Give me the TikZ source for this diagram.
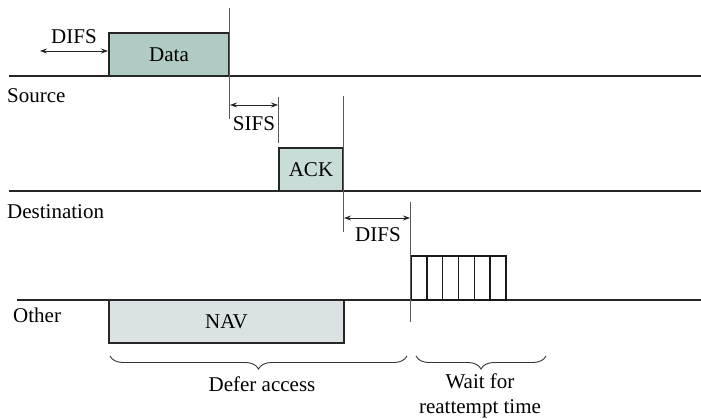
\documentclass[tikz,border=0pt]{standalone}
\usepackage{fontspec}
\setmainfont{Liberation Serif}
\usetikzlibrary{arrows.meta,decorations.pathreplacing}
\definecolor{datac}{HTML}{B0CBC3}
\definecolor{ackc}{HTML}{C8DCD8}
\definecolor{navc}{HTML}{DAE2E4}
\begin{document}
\begin{tikzpicture}[x=1pt,y=-1pt,
  every node/.style={font=\fontsize{21}{24}\selectfont},
  frame/.style={draw=black!85,line width=1.3pt,inner sep=0pt,outer sep=0pt,anchor=south west},
  slotbox/.style={draw=black!90,line width=1.5pt,inner sep=0pt,outer sep=0pt,anchor=south west},
  axis/.style={draw=black!85,line width=1.3pt},
  tick/.style={draw=black!65,line width=0.9pt},
  gap/.style={{Stealth[length=7pt,width=5pt]}-{Stealth[length=7pt,width=5pt]},line width=0.8pt,black!85},
  lbl/.style={inner sep=0pt,anchor=west},
  bracestyle/.style={decorate,decoration={brace,mirror,amplitude=13pt,aspect=0.5},line width=0.9pt,black!80}]
\useasboundingbox (0,0) rectangle (701,418);
% time lines
\coordinate (s0) at (9,76);   \coordinate (s1) at (701,76);
\coordinate (d0) at (9,191);  \coordinate (d1) at (701,191);
\coordinate (o0) at (17,300); \coordinate (o1) at (701,300);
\draw[axis] (s0) -- (s1);
\draw[axis] (d0) -- (d1);
\draw[axis] (o0) -- (o1);
% frames
\node[frame,fill=datac,minimum width=120pt,minimum height=43pt] (data) at (109,76) {};
\node at (data.center) {Data};
\node[frame,fill=ackc,minimum width=64pt,minimum height=43pt] (ack) at (279,191) {};
\node at (ack.center) {ACK};
\node[frame,fill=navc,minimum width=235pt,minimum height=43pt,anchor=north west] (nav) at (109,300) {};
\node at (nav.center) {NAV};
% contention slots
\foreach \i in {0,...,5}{
  \node[slotbox,minimum width=15.83pt,minimum height=44pt] (slot\i) at ({411+15.83*\i},300) {};
}
% tick lines
\coordinate (t1a) at (229,8);   \coordinate (t1b) at (229,119);
\coordinate (t2a) at (278,97);  \coordinate (t2b) at (278,143);
\coordinate (t3a) at (343,96);  \coordinate (t3b) at (343,232);
\coordinate (t4a) at (410,202); \coordinate (t4b) at (410,322);
\draw[tick] (t1a) -- (t1b);
\draw[tick] (t2a) -- (t2b);
\draw[tick] (t3a) -- (t3b);
\draw[tick] (t4a) -- (t4b);
% gaps
\coordinate (g1a) at (40,51);   \coordinate (g1b) at (108,51);
\coordinate (g2a) at (230,105); \coordinate (g2b) at (278,105);
\coordinate (g3a) at (344,218); \coordinate (g3b) at (410,218);
\draw[gap] (g1a) -- (g1b);
\draw[gap] (g2a) -- (g2b);
\draw[gap] (g3a) -- (g3b);
\node (difs1) at (74,37) {DIFS};
\node (sifs) at (254,124) {SIFS};
\node (difs2) at (378,235) {DIFS};
% station labels
\node[lbl] (src) at (7,96) {Source};
\node[lbl] (dst) at (7,212) {Destination};
\node[lbl] (oth) at (13,315) {Other};
% braces
\coordinate (b1a) at (110,356); \coordinate (b1b) at (407,356);
\coordinate (b2a) at (416,356); \coordinate (b2b) at (546,356);
\draw[bracestyle] (b1a) -- (b1b);
\draw[bracestyle] (b2a) -- (b2b);
\node (defer) at (262,384) {Defer access};
\node[align=center,font=\fontsize{21}{25}\selectfont] (wait) at (480,396) {Wait for\\reattempt time};
\end{tikzpicture}
\end{document}
